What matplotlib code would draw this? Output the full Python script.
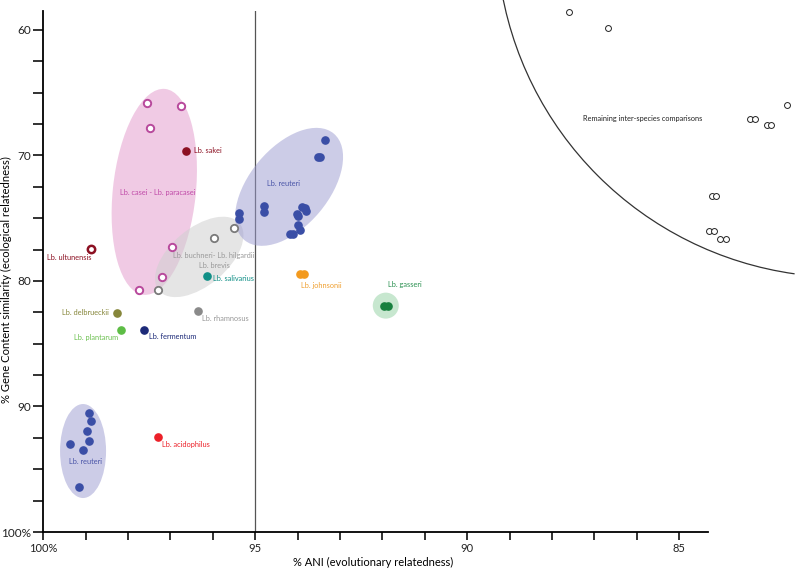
import numpy as np
import matplotlib
matplotlib.use("Agg")
import matplotlib.pyplot as plt
from matplotlib.patches import Ellipse, Arc
from matplotlib.transforms import ScaledTranslation

plt.rcParams.update({
    "font.family": ["Lato", "DejaVu Sans"],
    "axes.linewidth": 1.3,
    "xtick.major.width": 1.3, "ytick.major.width": 1.3,
    "xtick.major.size": 6, "ytick.major.size": 7,
})

# ---------------- data: x = % ANI, y = % gene content similarity ----------------
reuteri_a_ani = [93.35, 93.52, 93.46, 94.80, 94.80, 95.38, 95.38, 93.89, 93.82,
                 93.79, 94.02, 94.00, 93.98, 93.94, 94.17, 94.10]
reuteri_a_gc  = [68.76, 70.15, 70.15, 74.02, 74.48, 74.58, 75.06, 74.13, 74.16,
                 74.42, 74.69, 74.82, 75.56, 75.94, 76.25, 76.25]
reuteri_b_ani = [98.92, 98.88, 98.97, 98.92, 99.36, 99.06, 99.16]
reuteri_b_gc  = [90.49, 91.13, 91.98, 92.77, 93.01, 93.44, 96.39]
casei_ani     = [97.56, 96.74, 97.48, 96.96, 97.19, 97.74]
casei_gc      = [65.87, 66.08, 67.86, 77.27, 79.66, 80.69]
buchneri_ani  = [97.29, 95.98, 95.49]
buchneri_gc   = [80.69, 76.60, 75.75]
johnsonii_ani = [93.94, 93.86]
johnsonii_gc  = [79.44, 79.44]
gasseri_ani   = [91.97, 91.86]
gasseri_gc    = [81.97, 81.97]
single_names  = ["sakei", "salivarius", "delbrueckii", "plantarum",
                 "fermentum", "rhamnosus", "acidophilus"]
single_ani    = [96.63, 96.14, 98.27, 98.16, 97.62, 96.36, 97.30]
single_gc     = [69.64, 79.63, 82.55, 83.90, 83.88, 82.37, 92.46]
ultunensis_ani, ultunensis_gc = [98.88], [77.47]
remaining_ani = [87.59, 86.68, 82.46, 83.33, 83.21, 82.92, 82.84,
                 84.23, 84.13, 84.29, 84.18, 84.03, 83.90]
remaining_gc  = [58.57, 59.84, 66.03, 67.07, 67.07, 67.57, 67.57,
                 73.23, 73.23, 76.04, 75.99, 76.68, 76.68]

xticks_pos = list(range(100, 84, -1))
xtick_lbls = ["100%", "", "", "", "", "95", "", "", "", "", "90", "", "", "", "", "85"]
yticks_pos = list(np.arange(60, 100.1, 2.5))
ytick_lbls = ["60", "", "", "", "70", "", "", "", "80", "", "", "", "90", "", "", "", "100%"]

single_cols = {"sakei": "#8c1022", "salivarius": "#0f8f86", "delbrueckii": "#86863a",
               "plantarum": "#5dbd45", "fermentum": "#1c2a78", "rhamnosus": "#8a8a8a",
               "acidophilus": "#ec2028"}
BLUE = "#3a4ea6"

fig = plt.figure(figsize=(8, 5.69), dpi=100)
ax = fig.add_axes([0.054, 0.065, 0.831, 0.916])
ax.set_xlim(100, 84.32)
ax.set_ylim(100, 58.49)

def blob(xc, yc, w_px, h_px, ang, fc, alpha):
    tr = fig.dpi_scale_trans + ScaledTranslation(xc, yc, ax.transData)
    ax.add_patch(Ellipse((0, 0), w_px / 100, h_px / 100, angle=ang, transform=tr,
                         facecolor=fc, edgecolor="none", alpha=alpha, zorder=1))

blob(97.38, 72.91, 207, 83, 84, "#e6a8d2", 0.6)    # casei / paracasei
blob(96.32, 78.09, 105, 57, 40, "#d0d0d0", 0.55)   # buchneri / hilgardii / brevis
blob(94.20, 72.51, 139, 79, 50, "#9a9ad0", 0.5)    # reuteri (upper)
blob(99.06, 93.55, 94, 46, 90, "#9a9ad0", 0.5)     # reuteri (lower)
blob(91.92, 81.97, 26, 26, 0, "#90d0a0", 0.5)      # gasseri

arc_tr = fig.dpi_scale_trans + ScaledTranslation(81.14, 52.11, ax.transData)
ax.add_patch(Arc((0, 0), 6.93, 6.93, theta1=188, theta2=262, transform=arc_tr,
                 color="#333333", lw=0.9, clip_on=False))

ax.axvline(95, color="#555555", lw=0.9, zorder=0)

ax.scatter(reuteri_a_ani, reuteri_a_gc, s=27, color=BLUE, zorder=3)
ax.scatter(reuteri_b_ani, reuteri_b_gc, s=27, color=BLUE, zorder=3)
ax.scatter(casei_ani, casei_gc, s=28, facecolor="white", edgecolor="#b8499c", lw=1.4, zorder=3)
ax.scatter(buchneri_ani, buchneri_gc, s=28, facecolor="white", edgecolor="#7a7a7a", lw=1.3, zorder=3)
ax.scatter(ultunensis_ani, ultunensis_gc, s=28, facecolor="white", edgecolor="#8c1022", lw=1.8, zorder=3)
ax.scatter(johnsonii_ani, johnsonii_gc, s=27, color="#f39a1e", zorder=3)
ax.scatter(gasseri_ani, gasseri_gc, s=27, color="#17803e", zorder=3)
for n, x, y in zip(single_names, single_ani, single_gc):
    ax.scatter([x], [y], s=27, color=single_cols[n], zorder=3)
ax.scatter(remaining_ani, remaining_gc, s=18, facecolor="white", edgecolor="#222222",
           lw=0.7, zorder=3, clip_on=False)

fs = 5.3
def lab(x, y, s, c, ha="left"):
    ax.text(x, y, s, color=c, fontsize=fs, ha=ha, va="center", zorder=4)

lab(96.44, 69.64, "Lb. sakei", "#8c1022")
lab(97.31, 72.99, "Lb. casei - Lb. paracasei", "#c04aa8", "center")
lab(99.39, 78.17, "Lb. ultunensis", "#8c1022", "center")
lab(95.98, 78.01, "Lb. buchneri- Lb. hilgardii", "#9a9a9a", "center")
lab(95.97, 78.80, "Lb. brevis", "#9a9a9a", "center")
lab(95.99, 79.84, "Lb. salivarius", "#0f8f86")
lab(94.72, 72.27, "Lb. reuteri", "#4a55a8")
lab(93.44, 80.40, "Lb. johnsonii", "#f0a030", "center")
lab(91.46, 80.29, "Lb. gasseri", "#2a9050", "center")
lab(98.44, 82.55, "Lb. delbrueckii", "#86863a", "right")
lab(98.75, 84.54, "Lb. plantarum", "#6cc050", "center")
lab(97.51, 84.46, "Lb. fermentum", "#1c2a78")
lab(96.26, 83.00, "Lb. rhamnosus", "#999999")
lab(99.01, 94.42, "Lb. reuteri", "#4a55a8", "center")
lab(97.20, 93.01, "Lb. acidophilus", "#ec2028")
lab(85.86, 67.04, "Remaining inter-species comparisons", "#222222", "center")

ax.set_xticks(xticks_pos)
ax.set_xticklabels(xtick_lbls, fontsize=8)
ax.set_yticks(yticks_pos)
ax.set_yticklabels(ytick_lbls, fontsize=8.5)
ax.tick_params(colors="#222222", pad=2)
for sp in ("top", "right"):
    ax.spines[sp].set_visible(False)
ax.set_xlabel("% ANI (evolutionary relatedness)", fontsize=8)
ax.xaxis.set_label_coords(0.496, -0.048)
ax.set_ylabel("% Gene Content similarity (ecological relatedness)", fontsize=8.1)
ax.yaxis.set_label_coords(-0.047, 0.484)

fig.savefig("out.png", dpi=100)
